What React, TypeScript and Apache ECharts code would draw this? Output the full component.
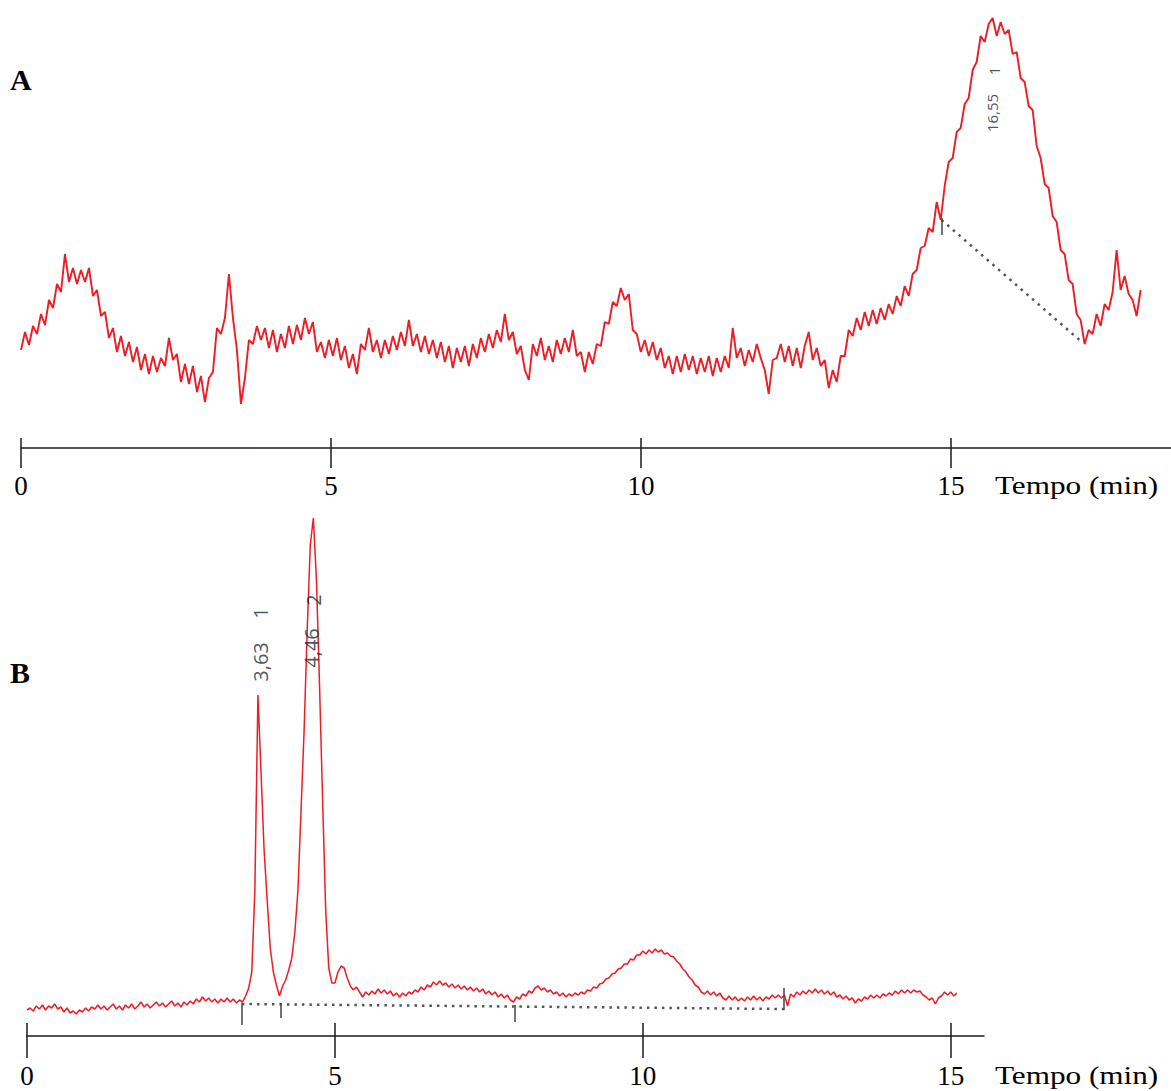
import React, { useEffect, useRef } from "react";
import * as echarts from "echarts";

// ---------- data ----------
const TICK_VALUES = [0, 5, 10, 15];
const AXIS_TITLE = "Tempo (min)";

// Panel A: detector signal sampled every A_DT minutes from A_T0
const A_T0 = 0;
const A_DT = 0.0645;
const A_SIGNAL = [
  98, 116, 103, 122, 114, 134, 123, 148, 140, 164,
  156, 194, 166, 180, 164, 178, 166, 180, 152, 158,
  132, 136, 110, 120, 96, 112, 92, 106, 86, 101,
  78, 94, 74, 92, 76, 90, 82, 110, 88, 94,
  66, 84, 64, 82, 56, 72, 46, 70, 76, 120,
  114, 130, 174, 130, 98, 44, 70, 108, 104, 122,
  108, 120, 100, 118, 96, 114, 100, 122, 104, 123,
  108, 130, 114, 126, 96, 106, 90, 108, 92, 110,
  88, 102, 80, 94, 74, 104, 98, 120, 96, 108,
  90, 108, 94, 112, 98, 116, 102, 128, 102, 114,
  96, 112, 94, 108, 90, 106, 86, 102, 80, 100,
  86, 102, 82, 104, 90, 110, 96, 114, 100, 118,
  106, 134, 108, 116, 94, 102, 78, 68, 104, 92,
  110, 88, 102, 86, 108, 94, 110, 96, 118, 92,
  96, 76, 96, 84, 104, 102, 126, 124, 146, 142,
  160, 148, 154, 118, 114, 96, 108, 92, 106, 88,
  100, 80, 92, 74, 92, 76, 94, 78, 92, 74,
  90, 76, 92, 72, 90, 76, 92, 80, 120, 90,
  100, 82, 98, 86, 104, 90, 78, 54, 88, 90,
  104, 86, 102, 82, 100, 80, 102, 116, 88, 100,
  82, 88, 60, 78, 66, 92, 92, 118, 112, 130,
  118, 136, 122, 138, 124, 140, 128, 144, 134, 152,
  142, 162, 152, 174, 178, 200, 202, 220, 216, 246,
  228, 262, 286, 290, 316, 320, 344, 350, 378, 386,
  412, 406, 424, 430, 412, 426, 414, 418, 394, 396,
  370, 366, 342, 338, 302, 290, 264, 260, 232, 226,
  198, 194, 168, 164, 134, 128, 104, 118, 114, 134,
  122, 144, 138, 156, 198, 158, 172, 154, 148, 132,
  158,
];
const A_BASELINE = [
  [14.85, 228],
  [17.13, 105],
];
// [time, from, to]
const A_MARKERS = [[14.85, 230, 213]];
const A_PEAK_LABELS = [
  { t: 15.661, v: 335, text: "16,55" },
  { t: 15.694, v: 377, text: "1" },
];

// Panel B
const B_T0 = 0;
const B_DT = 0.05;
const B_SIGNAL = [
  26, 28, 25, 30, 27, 31, 26, 30, 28, 32,
  27, 29, 24, 28, 23, 25, 22, 26, 24, 28,
  25, 29, 27, 31, 27, 30, 26, 29, 32, 27,
  30, 26, 31, 28, 32, 27, 30, 34, 29, 32,
  28, 31, 34, 30, 33, 29, 32, 35, 30, 33,
  29, 34, 31, 35, 32, 37, 34, 39, 35, 38,
  34, 37, 33, 37, 34, 38, 34, 37, 33, 36,
  34, 40, 48, 64, 146, 341, 264, 186, 136, 88,
  64, 51, 40, 50, 56, 66, 78, 104, 146, 226,
  306, 406, 491, 518, 456, 351, 236, 126, 68, 53,
  53, 64, 70, 68, 58, 50, 46, 49, 44, 39,
  44, 41, 45, 42, 47, 43, 46, 42, 45, 40,
  43, 39, 43, 40, 44, 42, 46, 44, 49, 46,
  51, 49, 54, 51, 55, 51, 53, 49, 52, 48,
  51, 47, 50, 46, 49, 45, 48, 44, 47, 42,
  45, 41, 44, 39, 42, 38, 41, 36, 34, 39,
  37, 42, 40, 45, 43, 48, 50, 46, 48, 44,
  46, 42, 44, 40, 43, 39, 42, 40, 43, 41,
  44, 42, 46, 45, 49, 48, 52, 53, 57, 58,
  62, 63, 67, 68, 72, 72, 77, 76, 81, 81,
  85, 82, 86, 83, 87, 84, 86, 82, 83, 80,
  79, 75, 72, 67, 64, 59, 56, 51, 49, 44,
  42, 45, 41, 44, 40, 43, 38, 36, 40, 36,
  39, 35, 38, 35, 39, 36, 40, 36, 39, 35,
  39, 37, 41, 38, 41, 38, 41, 30, 42, 39,
  44, 41, 45, 42, 46, 43, 47, 43, 46, 42,
  45, 41, 44, 39, 41, 37, 40, 36, 38, 33,
  37, 35, 39, 37, 41, 38, 41, 38, 42, 40,
  43, 41, 45, 42, 46, 43, 46, 43, 46, 44,
  45, 41, 39, 36, 38, 32, 38, 40, 44, 41,
  44, 40, 43,
];
const B_BASELINE = [
  [3.49, 32],
  [12.29, 27],
];
const B_MARKERS = [
  [3.49, 33, 11],
  [4.12, 33, 18],
  [7.92, 31, 14],
  [12.29, 48, 26],
];
const B_PEAK_LABELS = [
  { t: 3.799, v: 374, text: "3,63" },
  { t: 3.799, v: 423, text: "1" },
  { t: 4.627, v: 388, text: "4,46" },
  { t: 4.66, v: 436, text: "2" },
];

// ---------- styles ----------
const SERIF = "Liberation Serif, Times New Roman, Times, serif";
const SANS = "Open Sans, Noto Sans, sans-serif";
const RED = "#ee1c25";
const AXIS_COLOR = "#1a1a1a";
const DOT_COLOR = "#555";

function mainXAxis(gridIndex: number, max: number, tickLen: number, margin: number) {
  return {
    gridIndex,
    type: "value",
    min: 0,
    max,
    position: "bottom",
    axisLine: { show: true, onZero: false, lineStyle: { color: AXIS_COLOR, width: 1.5 } },
    axisTick: {
      show: true,
      inside: false,
      length: tickLen,
      customValues: TICK_VALUES,
      lineStyle: { color: AXIS_COLOR, width: 1.5 },
    },
    axisLabel: {
      show: true,
      customValues: TICK_VALUES,
      margin,
      fontSize: 27,
      fontFamily: SERIF,
      color: "#000",
      formatter: (v: number) => String(v),
    },
    splitLine: { show: false },
  };
}

function overlayXAxis(gridIndex: number, max: number, tickLen: number) {
  return {
    gridIndex,
    type: "value",
    min: 0,
    max,
    position: "bottom",
    axisLine: { show: false, onZero: false },
    axisTick: {
      show: true,
      inside: true,
      length: tickLen,
      customValues: TICK_VALUES,
      lineStyle: { color: AXIS_COLOR, width: 1.5 },
    },
    axisLabel: { show: false },
    splitLine: { show: false },
  };
}

function markerLines(baseline: number[][], markers: number[][]) {
  const data: any[] = [
    [
      { coord: baseline[0], lineStyle: { type: [2.5, 5], color: DOT_COLOR, width: 2.5 } },
      { coord: baseline[1], lineStyle: { type: [2.5, 5], color: DOT_COLOR, width: 2.5 } },
    ],
  ];
  markers.forEach((m) => {
    data.push([
      { coord: [m[0], m[1]], lineStyle: { type: "solid", color: "#444", width: 1.5 } },
      { coord: [m[0], m[2]], lineStyle: { type: "solid", color: "#444", width: 1.5 } },
    ]);
  });
  return {
    silent: true,
    symbol: ["none", "none"],
    label: { show: false },
    emphasis: { disabled: true },
    data,
  };
}

function labelSeries(axisIndex: number, items: { t: number; v: number; text: string }[], size: number) {
  return {
    type: "scatter",
    xAxisIndex: axisIndex,
    yAxisIndex: axisIndex,
    symbolSize: 1,
    itemStyle: { color: "rgba(0,0,0,0)" },
    silent: true,
    z: 5,
    data: items.map((p) => ({ value: [p.t, p.v], name: p.text })),
    label: {
      show: true,
      position: "inside",
      rotate: 90,
      formatter: "{b}",
      fontSize: size,
      fontFamily: SANS,
      color: "#1e2a36",
    },
  };
}

function titleText(text: string, x: number, y: number, bold: boolean, size: number, scaleX: number) {
  return {
    type: "text",
    x,
    y,
    scaleX,
    style: {
      text,
      fontSize: size,
      fontWeight: bold ? "bold" : "normal",
      fontFamily: SERIF,
      fill: "#000",
      textAlign: "left",
      textVerticalAlign: "middle",
    },
  };
}

export default function App() {
  const ref = useRef<HTMLDivElement>(null);

  useEffect(() => {
    if (!ref.current) return;
    const chart = echarts.init(ref.current, undefined, { renderer: "svg" });

    const aData = A_SIGNAL.map((v, i) => [A_T0 + i * A_DT, v]);
    const bData = B_SIGNAL.map((v, i) => [B_T0 + i * B_DT, v]);

    const option: any = {
      animation: false,
      backgroundColor: "#ffffff",
      grid: [
        { left: 21, top: 0, width: 1150, height: 448 },
        { left: 27, top: 500, width: 957, height: 536 },
      ],
      xAxis: [
        mainXAxis(0, 18.55, 20, 24),
        mainXAxis(1, 15.54, 22, 26),
        overlayXAxis(0, 18.55, 10),
        overlayXAxis(1, 15.54, 13),
      ],
      yAxis: [
        { gridIndex: 0, type: "value", min: 0, max: 448, show: false },
        { gridIndex: 1, type: "value", min: 0, max: 536, show: false },
      ],
      series: [
        {
          name: "A",
          type: "line",
          xAxisIndex: 0,
          yAxisIndex: 0,
          data: aData,
          showSymbol: false,
          symbol: "none",
          lineStyle: { color: RED, width: 1.9 },
          silent: true,
          markLine: markerLines(A_BASELINE, A_MARKERS),
        },
        {
          name: "B",
          type: "line",
          xAxisIndex: 1,
          yAxisIndex: 1,
          data: bData,
          showSymbol: false,
          symbol: "none",
          lineStyle: { color: RED, width: 1.5 },
          silent: true,
          markLine: markerLines(B_BASELINE, B_MARKERS),
        },
        labelSeries(0, A_PEAK_LABELS, 15),
        labelSeries(1, B_PEAK_LABELS, 20),
      ],
      graphic: [
        titleText("A", 10, 79, true, 30, 1),
        titleText("B", 10, 672, true, 30, 1),
        titleText(AXIS_TITLE, 995, 485, false, 26, 1.2),
        titleText(AXIS_TITLE, 995, 1075, false, 26, 1.2),
      ],
    };

    chart.setOption(option);
    return () => chart.dispose();
  }, []);

  return (
    <div
      ref={ref}
      style={{ position: "absolute", left: 0, top: 0, width: 1171, height: 1091, background: "#fff" }}
    />
  );
}
